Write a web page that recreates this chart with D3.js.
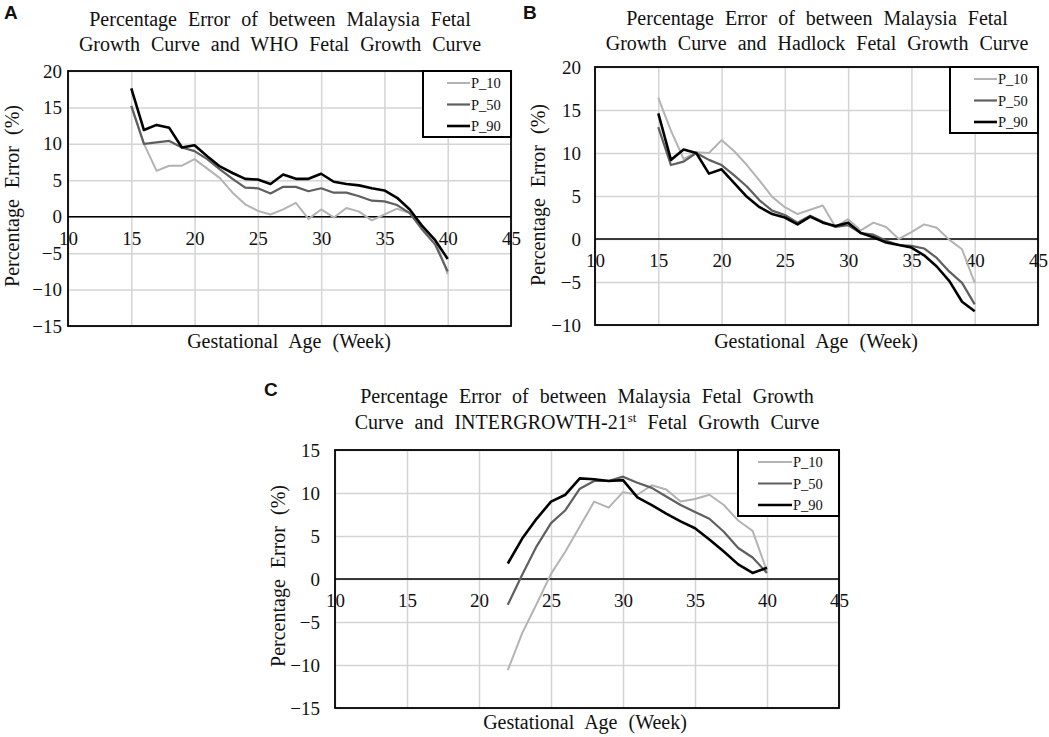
<!DOCTYPE html>
<html>
<head>
<meta charset="utf-8">
<script src="https://cdn.jsdelivr.net/npm/d3@7"></script>
<style>
  body { margin: 0; background: #fff; }
  svg { display: block; }
  text { font-family: "Liberation Serif", "Times New Roman", serif; fill: #111; }
  .letter { font-family: "Liberation Sans", Arial, sans-serif; font-weight: bold; font-size: 19px; }
  .title { font-size: 20px; word-spacing: 6px; }
  .axis-title { font-size: 20px; word-spacing: 6px; }
  .legend text { font-size: 14.5px; }
</style>
</head>
<body>
<svg id="chart" width="1049" height="737"></svg>
<script>
// weeks and percentage error values
var weeksAB = [15, 16, 17, 18, 19, 20, 21, 22, 23, 24, 25, 26, 27, 28, 29, 30, 31, 32, 33, 34, 35, 36, 37, 38, 39, 40];
var weeksC = [22, 23, 24, 25, 26, 27, 28, 29, 30, 31, 32, 33, 34, 35, 36, 37, 38, 39, 40];

// A: Malaysia vs WHO
var whoP10 = [15.2, 10.0, 6.3, 7.0, 7.0, 7.9, 6.6, 5.3, 3.3, 1.7, 0.8, 0.3, 1.0, 1.9, -0.3, 1.0, -0.1, 1.2, 0.7, -0.5, 0.3, 1.1, 0.5, -1.3, -3.1, -7.9];
var whoP50 = [15.2, 10.0, 10.2, 10.4, 9.5, 9.0, 7.9, 6.5, 5.2, 4.0, 3.9, 3.2, 4.1, 4.1, 3.5, 3.9, 3.3, 3.3, 2.8, 2.2, 2.1, 1.6, 0.5, -1.8, -3.8, -7.5];
var whoP90 = [17.6, 11.9, 12.6, 12.2, 9.5, 9.8, 8.3, 6.9, 6.0, 5.2, 5.1, 4.5, 5.8, 5.2, 5.2, 5.9, 4.8, 4.5, 4.3, 3.9, 3.6, 2.6, 1.0, -1.3, -3.2, -5.8];

// B: Malaysia vs Hadlock
var hadP10 = [16.4, 12.6, 9.3, 10.1, 10.0, 11.5, 10.2, 8.6, 6.8, 4.9, 3.7, 2.9, 3.4, 3.9, 1.4, 2.3, 1.0, 1.9, 1.4, 0.0, 0.8, 1.7, 1.3, -0.1, -1.2, -5.1];
var hadP50 = [13.0, 8.6, 9.0, 10.0, 9.2, 8.6, 7.4, 6.1, 4.5, 3.3, 2.8, 1.9, 2.7, 2.0, 1.4, 1.6, 0.7, 0.5, -0.2, -0.7, -0.8, -1.1, -2.2, -3.8, -5.1, -7.6];
var hadP90 = [14.6, 9.2, 10.4, 10.0, 7.6, 8.1, 6.5, 4.9, 3.7, 2.9, 2.5, 1.7, 2.6, 1.9, 1.5, 1.9, 0.7, 0.2, -0.4, -0.7, -1.0, -1.9, -3.2, -4.9, -7.3, -8.4];

// C: Malaysia vs INTERGROWTH-21st
var igP10 = [-10.6, -6.3, -2.9, 0.6, 3.2, 6.1, 9.0, 8.3, 10.1, 9.8, 10.9, 10.4, 9.0, 9.3, 9.8, 8.6, 6.8, 5.6, 0.9];
var igP50 = [-3.0, 0.5, 3.8, 6.5, 8.0, 10.5, 11.4, 11.4, 11.9, 11.2, 10.6, 9.6, 8.6, 7.8, 7.0, 5.5, 3.6, 2.5, 0.7];
var igP90 = [1.8, 4.7, 7.0, 9.0, 9.8, 11.7, 11.6, 11.4, 11.5, 9.5, 8.6, 7.6, 6.7, 5.9, 4.6, 3.2, 1.7, 0.7, 1.3];

var seriesNames = ['P_10', 'P_50', 'P_90'];
var xTicks = [10, 15, 20, 25, 30, 35, 40, 45];
var yTicksA = [-15, -10, -5, 0, 5, 10, 15, 20];
var yTicksB = [-10, -5, 0, 5, 10, 15, 20];
var yTicksC = [-15, -10, -5, 0, 5, 10, 15];

var lineColors = ['#b3b3b3', '#5f5f5f', '#000000'];
var lineWidths = [2, 2.2, 2.6];

var panels = [
  {
    letter: 'A', letterPos: [4, 19],
    titleLines: [['Percentage Error of between Malaysia Fetal'], ['Growth Curve and WHO Fetal Growth Curve']],
    titleX: 280, titleY: [26, 51],
    left: 68, right: 511, top: 71, bottom: 326,
    yDomain: [-15, 20], yTicks: yTicksA, yPad: 6,
    weeks: weeksAB, series: [whoP10, whoP50, whoP90],
    yTitle: [12, 196], xTitle: [289, 348]
  },
  {
    letter: 'B', letterPos: [523, 19],
    titleLines: [['Percentage Error of between Malaysia Fetal'], ['Growth Curve and Hadlock Fetal Growth Curve']],
    titleX: 817, titleY: [25, 50],
    left: 595, right: 1038, top: 67, bottom: 325,
    yDomain: [-10, 20], yTicks: yTicksB, yPad: 14,
    weeks: weeksAB, series: [hadP10, hadP50, hadP90],
    yTitle: [538, 195], xTitle: [816, 348]
  },
  {
    letter: 'C', letterPos: [264, 396],
    titleLines: [['Percentage Error of between Malaysia Fetal Growth'], ['Curve and INTERGROWTH-21', 'st', ' Fetal Growth Curve']],
    titleX: 587, titleY: [403, 429],
    left: 335, right: 839, top: 450, bottom: 708,
    yDomain: [-15, 15], yTicks: yTicksC, yPad: 15,
    weeks: weeksC, series: [igP10, igP50, igP90],
    yTitle: [278, 576], xTitle: [585, 729]
  }
];

var svg = d3.select('#chart');

function styleTicks(s) {
  s.select('.domain').remove();
  s.attr('font-family', null).attr('font-size', null);
  s.selectAll('text')
    .style('font-family', '"Liberation Serif", "Times New Roman", serif')
    .style('font-size', '19px')
    .style('fill', '#111');
}

function styleGrid(s) {
  s.select('.domain').remove();
  s.selectAll('line').attr('stroke', '#d4d4d4').attr('stroke-width', 1.5);
}

function drawPanel(p) {
  var x = d3.scaleLinear().domain([10, 45]).range([p.left, p.right]);
  var y = d3.scaleLinear().domain(p.yDomain).range([p.bottom, p.top]);
  var g = svg.append('g');

  // gridlines
  g.append('g')
    .attr('transform', 'translate(0,' + p.bottom + ')')
    .call(d3.axisBottom(x).tickValues(xTicks).tickSize(-(p.bottom - p.top)).tickFormat(''))
    .call(styleGrid);
  g.append('g')
    .attr('transform', 'translate(' + p.left + ',0)')
    .call(d3.axisLeft(y).tickValues(p.yTicks).tickSize(-(p.right - p.left)).tickFormat(''))
    .call(styleGrid);

  // zero line
  g.append('line')
    .attr('x1', p.left).attr('x2', p.right)
    .attr('y1', y(0)).attr('y2', y(0))
    .attr('stroke', '#000').attr('stroke-width', 1.6);

  // tick labels
  g.append('g')
    .attr('transform', 'translate(0,' + y(0) + ')')
    .call(d3.axisBottom(x).tickValues(xTicks).tickSize(0).tickPadding(15))
    .call(styleTicks);
  g.append('g')
    .attr('transform', 'translate(' + p.left + ',0)')
    .call(d3.axisLeft(y).tickValues(p.yTicks).tickSize(0).tickPadding(p.yPad))
    .call(styleTicks);

  // series lines
  var line = d3.line()
    .x(function (d) { return x(d[0]); })
    .y(function (d) { return y(d[1]); });
  p.series.forEach(function (vals, i) {
    g.append('path')
      .datum(p.weeks.map(function (w, k) { return [w, vals[k]]; }))
      .attr('fill', 'none')
      .attr('stroke', lineColors[i])
      .attr('stroke-width', lineWidths[i])
      .attr('stroke-linejoin', 'round')
      .attr('d', line);
  });

  // plot border
  g.append('rect')
    .attr('x', p.left).attr('y', p.top)
    .attr('width', p.right - p.left).attr('height', p.bottom - p.top)
    .attr('fill', 'none').attr('stroke', '#000').attr('stroke-width', 1.8);

  // legend
  var lw = p.letter === 'C' ? 101 : 88;
  var lh = 66;
  var leg = g.append('g').attr('class', 'legend')
    .attr('transform', 'translate(' + (p.right - lw) + ',' + p.top + ')');
  leg.append('rect')
    .attr('width', lw).attr('height', lh)
    .attr('fill', '#fff').attr('stroke', '#000').attr('stroke-width', 2);
  seriesNames.forEach(function (name, i) {
    var ly = 12 + i * 21.5;
    var lx1 = p.letter === 'C' ? 20 : 24;
    var lx2 = p.letter === 'C' ? 54 : 47;
    leg.append('line')
      .attr('x1', lx1).attr('x2', lx2).attr('y1', ly).attr('y2', ly)
      .attr('stroke', lineColors[i]).attr('stroke-width', lineWidths[i]);
    leg.append('text')
      .attr('x', lx2 + 1).attr('y', ly + 5)
      .text(name);
  });

  // titles
  p.titleLines.forEach(function (parts, i) {
    var t = g.append('text').attr('class', 'title')
      .attr('x', p.titleX).attr('y', p.titleY[i])
      .attr('text-anchor', 'middle');
    parts.forEach(function (part, k) {
      var ts = t.append('tspan').text(part);
      if (k === 1) ts.attr('font-size', '13px').attr('dy', -7);
      if (k === 2) ts.attr('dy', 7);
    });
  });

  g.append('text').attr('class', 'axis-title')
    .attr('text-anchor', 'middle')
    .attr('transform', 'translate(' + p.yTitle[0] + ',' + p.yTitle[1] + ') rotate(-90)')
    .attr('dy', '0.35em')
    .text('Percentage Error (%)');
  g.append('text').attr('class', 'axis-title')
    .attr('text-anchor', 'middle')
    .attr('x', p.xTitle[0]).attr('y', p.xTitle[1])
    .text('Gestational Age (Week)');

  g.append('text').attr('class', 'letter')
    .attr('x', p.letterPos[0]).attr('y', p.letterPos[1])
    .text(p.letter);
}

panels.forEach(drawPanel);
</script>
</body>
</html>
